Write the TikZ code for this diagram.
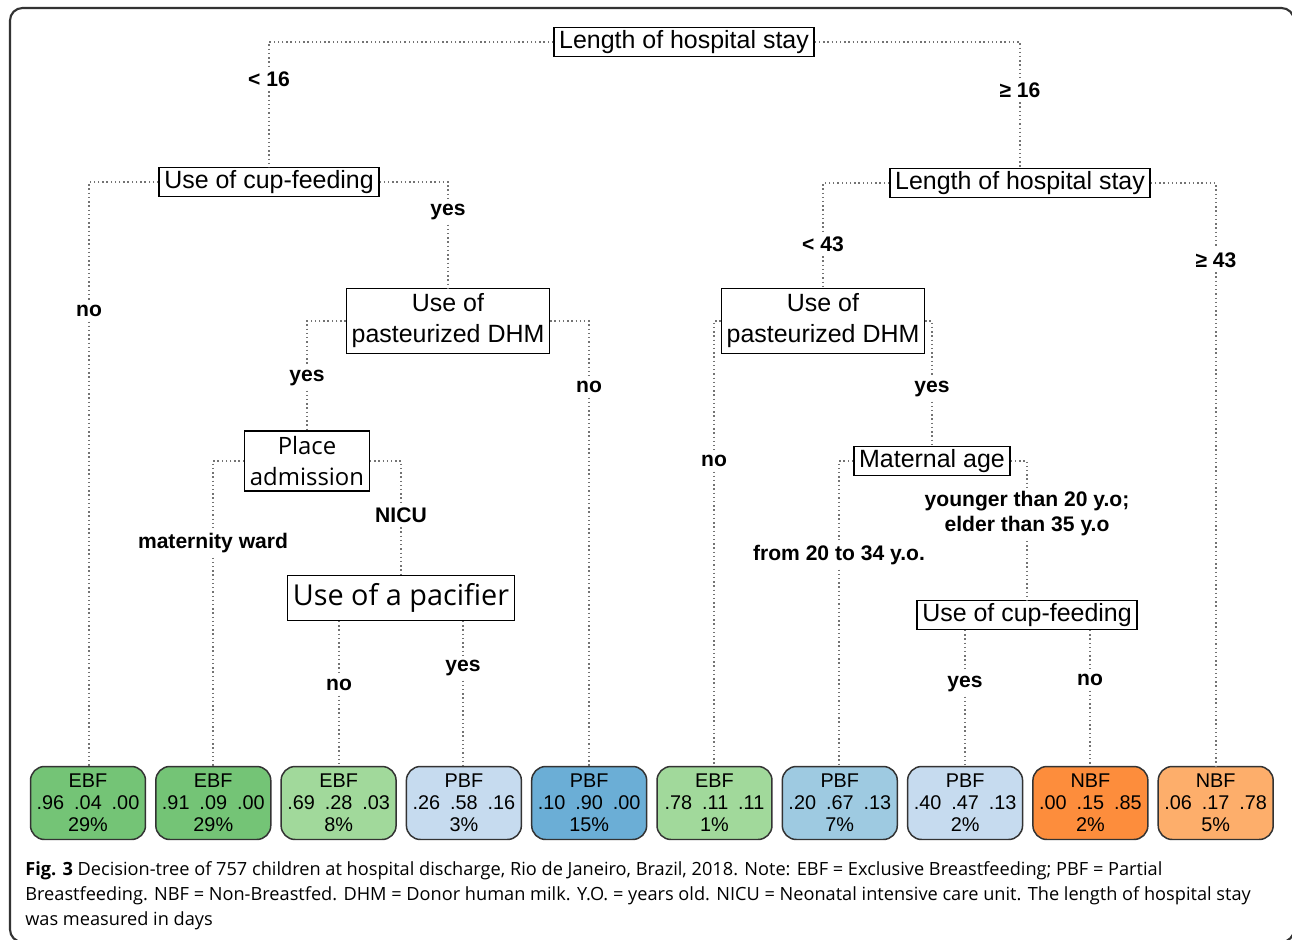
\documentclass[tikz,border=0pt]{standalone}
\usepackage{fontspec}
\setmainfont{Liberation Sans}
\newfontfamily\opensans{Open Sans}
\newfontfamily\capfont{Open Sans}
\usetikzlibrary{positioning}

\definecolor{ebfA}{HTML}{74C476}
\definecolor{ebfB}{HTML}{A1D99B}
\definecolor{pbfA}{HTML}{C6DBEF}
\definecolor{pbfB}{HTML}{6BAED6}
\definecolor{pbfC}{HTML}{9ECAE1}
\definecolor{nbfA}{HTML}{FD8D3C}
\definecolor{nbfB}{HTML}{FDAE6B}

\tikzset{
  split/.style={draw=black, fill=white, line width=0.7pt, inner xsep=3pt, inner ysep=1.5pt,
    align=center, font=\fontsize{14.2}{17.6}\selectfont},
  leaf/.style={draw=black!80, line width=0.85pt, rounded corners=0.28cm, minimum width=2.3cm,
    minimum height=1.46cm, inner sep=0pt, align=center, font=\fontsize{11.3}{12.5}\selectfont},
  edge/.style={draw=black!55, line width=0.8pt, dash pattern=on 0.8pt off 1.6pt},
  lab/.style={font=\bfseries\fontsize{12}{14.2}\selectfont, align=center, inner sep=2.5pt},
  caption/.style={font=\capfont\fontsize{10.35}{14.2}\selectfont, align=left, inner sep=0pt},
}

\begin{document}
\begin{tikzpicture}[x=0.02cm, y=-0.02cm]
  \useasboundingbox (0,0) rectangle (1292,940);
  % frame
  \draw[line width=1.2pt, black!80, rounded corners=0.25cm] (10,8) rectangle (1294,942);

  % split nodes
  \node[split] (root) at (684,42) {Length of hospital stay};
  \node[split] (cupL) at (269,182) {Use of cup-feeding};
  \node[split] (lhsR) at (1020,183) {Length of hospital stay};
  \node[split, inner ysep=3pt] (dhmL) at (448,321) {Use of\\pasteurized DHM};
  \node[split, inner ysep=3pt] (dhmR) at (823,321) {Use of\\pasteurized DHM};
  \node[split, inner ysep=3pt, font=\opensans\fontsize{13.6}{17.6}\selectfont] (place) at (307,461) {Place\\admission};
  \node[split] (mat) at (932,461) {Maternal age};
  \node[split, inner ysep=4.5pt, font=\opensans\fontsize{16.4}{19}\selectfont] (pac) at (401,598) {Use of a pacifier};
  \node[split] (cupR) at (1027,615) {Use of cup-feeding};

  % leaves
  \foreach \cls/\pa/\pb/\pc/\pct/\col [count=\i] in {
      EBF/.96/.04/.00/29/ebfA, EBF/.91/.09/.00/29/ebfA, EBF/.69/.28/.03/8/ebfB,
      PBF/.26/.58/.16/3/pbfA, PBF/.10/.90/.00/15/pbfB, EBF/.78/.11/.11/1/ebfB,
      PBF/.20/.67/.13/7/pbfC, PBF/.40/.47/.13/2/pbfA, NBF/.00/.15/.85/2/nbfA,
      NBF/.06/.17/.78/5/nbfB}
    \node[leaf, fill=\col] (leaf\i) at ({88+125.3*(\i-1)},803) {\cls\\\pa\enspace\pb\enspace\pc\\\pct\%};

  % branch labels
  \node[lab] (lt16) at (269,79) {< 16};
  \node[lab] (ge16) at (1020,90) {≥ 16};
  \node[lab] (lno1) at (89,311) {no};
  \node[lab] (lyes1) at (448,212) {yes};
  \node[lab] (lt43) at (823,244) {< 43};
  \node[lab] (ge43) at (1216,260) {≥ 43};
  \node[lab] (lyes2) at (307,378) {yes};
  \node[lab] (lno2) at (589,387) {no};
  \node[lab] (lno3) at (714,461) {no};
  \node[lab] (lyes3) at (932,389) {yes};
  \node[lab] (lmat) at (213,543) {maternity ward};
  \node[lab] (lnicu) at (401,515) {NICU};
  \node[lab] (lno4) at (339,685) {no};
  \node[lab] (lyes4) at (463,668) {yes};
  \node[lab] (lfrom) at (839,555) {from 20 to 34 y.o.};
  \node[lab] (lyoung) at (1027,514) {younger than 20 y.o;\\elder than 35 y.o};
  \node[lab] (lyes5) at (965,684) {yes};
  \node[lab] (lno5) at (1090,680) {no};

  % connectors
  \draw[edge] (root.west) -| (lt16);  \draw[edge] (lt16) -- (lt16 |- cupL.north);
  \draw[edge] (root.east) -| (ge16);  \draw[edge] (ge16) -- (ge16 |- lhsR.north);
  \draw[edge] (cupL.west) -| (lno1);  \draw[edge] (lno1) -- (lno1 |- leaf1.north);
  \draw[edge] (cupL.east) -| (lyes1); \draw[edge] (lyes1) -- (lyes1 |- dhmL.north);
  \draw[edge] (lhsR.west) -| (lt43);  \draw[edge] (lt43) -- (lt43 |- dhmR.north);
  \draw[edge] (lhsR.east) -| (ge43);  \draw[edge] (ge43) -- (ge43 |- leaf10.north);
  \draw[edge] (dhmL.west) -| (lyes2); \draw[edge] (lyes2) -- (lyes2 |- place.north);
  \draw[edge] (dhmL.east) -| (lno2);  \draw[edge] (lno2) -- (lno2 |- leaf5.north);
  \draw[edge] (dhmR.west) -| (lno3);  \draw[edge] (lno3) -- (lno3 |- leaf6.north);
  \draw[edge] (dhmR.east) -| (lyes3); \draw[edge] (lyes3) -- (lyes3 |- mat.north);
  \draw[edge] (place.west) -| (lmat); \draw[edge] (lmat) -- (lmat |- leaf2.north);
  \draw[edge] (place.east) -| (lnicu); \draw[edge] (lnicu) -- (lnicu |- pac.north);
  \draw[edge] (pac.south -| lno4) -- (lno4);   \draw[edge] (lno4) -- (lno4 |- leaf3.north);
  \draw[edge] (pac.south -| lyes4) -- (lyes4); \draw[edge] (lyes4) -- (lyes4 |- leaf4.north);
  \draw[edge] (mat.west) -| (lfrom);  \draw[edge] (lfrom) -- (lfrom |- leaf7.north);
  \draw[edge] (mat.east) -| (lyoung); \draw[edge] (lyoung) -- (lyoung |- cupR.north);
  \draw[edge] (cupR.south -| lyes5) -- (lyes5); \draw[edge] (lyes5) -- (lyes5 |- leaf8.north);
  \draw[edge] (cupR.south -| lno5) -- (lno5);   \draw[edge] (lno5) -- (lno5 |- leaf9.north);

  % caption
  \node[caption, anchor=north west] (cap) at (25,861) {\textbf{Fig. 3} Decision-tree of 757 children at hospital discharge, Rio de Janeiro, Brazil, 2018. Note: EBF = Exclusive Breastfeeding; PBF = Partial\\
    Breastfeeding. NBF = Non-Breastfed. DHM = Donor human milk. Y.O. = years old. NICU = Neonatal intensive care unit. The length of hospital stay\\
    was measured in days};
\end{tikzpicture}
\end{document}
